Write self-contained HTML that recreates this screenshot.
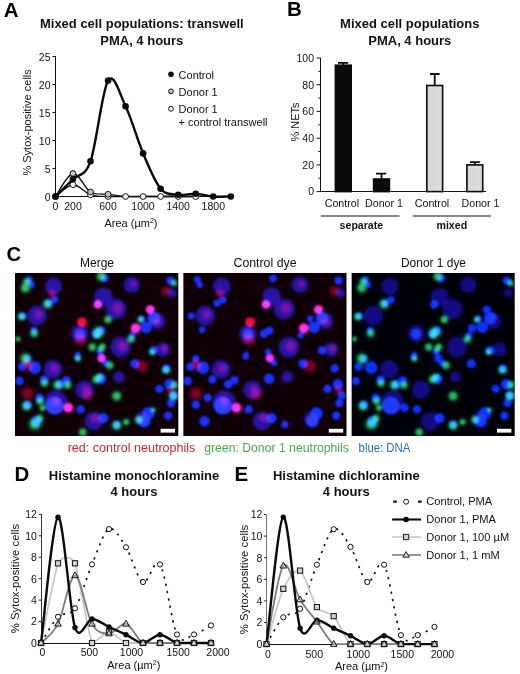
<!DOCTYPE html>
<html lang="en"><head><meta charset="utf-8"><title>Figure</title>
<style>html,body{margin:0;padding:0;background:#fff}body{width:520px;height:674px;overflow:hidden}svg{display:block}text{font-family:"Liberation Sans", Arial, Helvetica, sans-serif;fill:#111}.b{font-weight:700}.t{font-size:10.5px}.l{font-size:11px}.h{font-size:13px;font-weight:700}.p{font-size:20.5px;font-weight:700;fill:#000}.m{font-size:12.3px;fill:#111}</style></head><body>
<svg width="520" height="674" viewBox="0 0 520 674">
<defs><filter id="b1" x="-20%" y="-20%" width="140%" height="140%"><feGaussianBlur stdDeviation="1.1"/></filter><filter id="b2" x="-20%" y="-20%" width="140%" height="140%"><feGaussianBlur stdDeviation="1.7"/></filter>
<pattern id="st" width="2" height="2" patternUnits="userSpaceOnUse"><rect width="2" height="2" fill="#dcdcdc"/><rect width="1" height="1" fill="#cfcfcf"/></pattern></defs>
<rect width="520" height="674" fill="#fff"/>
<g id="panelA">
<text class="p" x="3.8" y="16.6">A</text>
<text class="h" x="141.8" y="27.9" text-anchor="middle">Mixed cell populations: transwell</text>
<text class="h" x="141.8" y="44.7" text-anchor="middle">PMA, 4 hours</text>
<path d="M55.5,56 V196.5 H231" fill="none" stroke="#111" stroke-width="1" shape-rendering="crispEdges"/>
<path d="M55.5,196.5 h-3" stroke="#111" stroke-width="1"/>
<text class="t" x="50.5" y="200.7" text-anchor="end">0</text>
<path d="M55.5,168.5 h-3" stroke="#111" stroke-width="1"/>
<text class="t" x="50.5" y="172.7" text-anchor="end">5</text>
<path d="M55.5,140.5 h-3" stroke="#111" stroke-width="1"/>
<text class="t" x="50.5" y="144.7" text-anchor="end">10</text>
<path d="M55.5,112.5 h-3" stroke="#111" stroke-width="1"/>
<text class="t" x="50.5" y="116.7" text-anchor="end">15</text>
<path d="M55.5,84.5 h-3" stroke="#111" stroke-width="1"/>
<text class="t" x="50.5" y="88.7" text-anchor="end">20</text>
<path d="M55.5,56.5 h-3" stroke="#111" stroke-width="1"/>
<text class="t" x="50.5" y="60.7" text-anchor="end">25</text>
<text class="t" x="55.5" y="210" text-anchor="middle">0</text>
<text class="t" x="73.0" y="210" text-anchor="middle">200</text>
<text class="t" x="108.0" y="210" text-anchor="middle">600</text>
<text class="t" x="143.0" y="210" text-anchor="middle">1000</text>
<text class="t" x="178.2" y="210" text-anchor="middle">1400</text>
<text class="t" x="213.3" y="210" text-anchor="middle">1800</text>
<text class="l" x="131" y="226.6" text-anchor="middle">Area (µm<tspan font-size="7" dy="-3.5">2</tspan><tspan dy="3.5">)</tspan></text>
<text class="l" transform="translate(31.4,122.4) rotate(-90)" text-anchor="middle">% Sytox-positive cells</text>
<path d="M55.50,196.50 C58.42,194.54 67.18,185.02 73.03,184.74 C78.87,184.46 84.71,192.86 90.55,194.82 C96.39,196.78 102.23,196.22 108.07,196.50 C113.92,196.78 119.76,196.50 125.60,196.50 C131.44,196.50 137.28,196.50 143.12,196.50 C148.97,196.50 154.81,196.50 160.65,196.50 C166.49,196.50 172.33,196.50 178.17,196.50 C184.02,196.50 192.78,196.50 195.70,196.50" fill="none" stroke="#111" stroke-width="1.4"/>
<path d="M55.50,196.50 C58.42,192.67 67.18,174.29 73.03,173.54 C78.87,172.79 84.71,188.57 90.55,192.02 C96.39,195.47 102.23,193.51 108.07,194.26 C113.92,195.01 119.76,196.13 125.60,196.50 C131.44,196.87 137.28,196.50 143.12,196.50 C148.97,196.50 154.81,196.50 160.65,196.50 C166.49,196.50 172.33,196.50 178.17,196.50 C184.02,196.50 192.78,196.50 195.70,196.50" fill="none" stroke="#111" stroke-width="1.4"/>
<circle cx="55.5" cy="196.5" r="2.9" fill="#fff" stroke="#111" stroke-width="1"/>
<circle cx="73.0" cy="184.7" r="2.9" fill="#fff" stroke="#111" stroke-width="1"/>
<circle cx="90.5" cy="194.8" r="2.9" fill="#fff" stroke="#111" stroke-width="1"/>
<circle cx="108.1" cy="196.5" r="2.9" fill="#fff" stroke="#111" stroke-width="1"/>
<circle cx="125.6" cy="196.5" r="2.9" fill="#fff" stroke="#111" stroke-width="1"/>
<circle cx="143.1" cy="196.5" r="2.9" fill="#fff" stroke="#111" stroke-width="1"/>
<circle cx="160.6" cy="196.5" r="2.9" fill="#fff" stroke="#111" stroke-width="1"/>
<circle cx="178.2" cy="196.5" r="2.9" fill="#fff" stroke="#111" stroke-width="1"/>
<circle cx="195.7" cy="196.5" r="2.9" fill="#fff" stroke="#111" stroke-width="1"/>
<circle cx="55.5" cy="196.5" r="2.9" fill="#c4c4c4" stroke="#111" stroke-width="1"/>
<circle cx="73.0" cy="173.5" r="2.9" fill="#c4c4c4" stroke="#111" stroke-width="1"/>
<circle cx="90.5" cy="192.0" r="2.9" fill="#c4c4c4" stroke="#111" stroke-width="1"/>
<circle cx="108.1" cy="194.3" r="2.9" fill="#c4c4c4" stroke="#111" stroke-width="1"/>
<path d="M55.50,196.50 C58.42,193.61 67.18,185.02 73.03,179.14 C78.87,173.26 84.71,177.65 90.55,161.22 C96.39,144.79 102.23,89.73 108.07,80.58 C113.92,71.43 119.76,94.21 125.60,106.34 C131.44,118.47 137.28,139.66 143.12,153.38 C148.97,167.10 154.81,181.75 160.65,188.66 C166.49,195.57 172.33,193.98 178.17,194.82 C184.02,195.66 189.86,193.42 195.70,193.70 C201.54,193.98 207.38,196.03 213.22,196.50 C219.07,196.97 227.83,196.50 230.75,196.50" fill="none" stroke="#0a0a0a" stroke-width="2.4" stroke-linejoin="round"/>
<circle cx="55.5" cy="196.5" r="3.3" fill="#0a0a0a"/>
<circle cx="73.0" cy="179.1" r="3.3" fill="#0a0a0a"/>
<circle cx="90.5" cy="161.2" r="3.3" fill="#0a0a0a"/>
<circle cx="108.1" cy="80.6" r="3.3" fill="#0a0a0a"/>
<circle cx="125.6" cy="106.3" r="3.3" fill="#0a0a0a"/>
<circle cx="143.1" cy="153.4" r="3.3" fill="#0a0a0a"/>
<circle cx="160.6" cy="188.7" r="3.3" fill="#0a0a0a"/>
<circle cx="178.2" cy="194.8" r="3.3" fill="#0a0a0a"/>
<circle cx="195.7" cy="193.7" r="3.3" fill="#0a0a0a"/>
<circle cx="213.2" cy="196.5" r="3.3" fill="#0a0a0a"/>
<circle cx="230.8" cy="196.5" r="3.3" fill="#0a0a0a"/>
<circle cx="171" cy="74.3" r="2.8" fill="#0a0a0a"/><circle cx="171" cy="91.3" r="2.4" fill="#c4c4c4" stroke="#111" stroke-width="1"/><circle cx="171" cy="108.8" r="2.4" fill="#fff" stroke="#111" stroke-width="1"/>
<text class="l" x="178.6" y="78.7">Control</text><text class="l" x="178.6" y="95.8">Donor 1</text><text class="l" x="178.6" y="112.6">Donor 1</text><text class="l" x="178.6" y="125.8">+ control transwell</text>
</g>
<g id="panelB">
<text class="p" x="287" y="15.7">B</text>
<text class="h" x="409.8" y="28.1" text-anchor="middle">Mixed cell populations</text>
<text class="h" x="409.8" y="44.9" text-anchor="middle">PMA, 4 hours</text>
<path d="M320.8,58 V191.6 H485.6" fill="none" stroke="#111" stroke-width="1" shape-rendering="crispEdges"/>
<path d="M320.8,191.6 h-4.2" stroke="#111" stroke-width="1"/>
<text class="t" x="314" y="195.4" text-anchor="end">0</text>
<path d="M320.8,178.2 h-2.4" stroke="#111" stroke-width="1"/>
<path d="M320.8,164.9 h-4.2" stroke="#111" stroke-width="1"/>
<text class="t" x="314" y="168.7" text-anchor="end">20</text>
<path d="M320.8,151.5 h-2.4" stroke="#111" stroke-width="1"/>
<path d="M320.8,138.2 h-4.2" stroke="#111" stroke-width="1"/>
<text class="t" x="314" y="142.0" text-anchor="end">40</text>
<path d="M320.8,124.8 h-2.4" stroke="#111" stroke-width="1"/>
<path d="M320.8,111.4 h-4.2" stroke="#111" stroke-width="1"/>
<text class="t" x="314" y="115.2" text-anchor="end">60</text>
<path d="M320.8,98.1 h-2.4" stroke="#111" stroke-width="1"/>
<path d="M320.8,84.7 h-4.2" stroke="#111" stroke-width="1"/>
<text class="t" x="314" y="88.5" text-anchor="end">80</text>
<path d="M320.8,71.4 h-2.4" stroke="#111" stroke-width="1"/>
<path d="M320.8,58.0 h-4.2" stroke="#111" stroke-width="1"/>
<text class="t" x="314" y="61.8" text-anchor="end">100</text>
<text class="l" transform="translate(298.5,122) rotate(-90)" text-anchor="middle">% NETs</text>
<path d="M343.3,65.2 V62.8 M338.0,62.8 H348.2" stroke="#0a0a0a" stroke-width="1.8" fill="none"/>
<rect x="335.4" y="65.2" width="15.8" height="126.4" fill="#0a0a0a" stroke="#0a0a0a" stroke-width="1.6"/>
<path d="M381.5,179.0 V173.7 M376.0,173.7 H386.2" stroke="#0a0a0a" stroke-width="1.8" fill="none"/>
<rect x="373.6" y="179.0" width="15.8" height="12.6" fill="#0a0a0a" stroke="#0a0a0a" stroke-width="1.6"/>
<path d="M434.7,85.5 V74.0 M430.0,74.0 H439.6" stroke="#0a0a0a" stroke-width="1.8" fill="none"/>
<rect x="426.8" y="85.5" width="15.8" height="106.1" fill="url(#st)" stroke="#0a0a0a" stroke-width="1.6"/>
<path d="M474.8,164.9 V162.2 M470.0,162.2 H479.8" stroke="#0a0a0a" stroke-width="1.8" fill="none"/>
<rect x="466.9" y="164.9" width="15.8" height="26.7" fill="url(#st)" stroke="#0a0a0a" stroke-width="1.6"/>
<text x="341.9" y="206.8" text-anchor="middle" style="font-size:10.7px">Control</text>
<text x="384.0" y="206.8" text-anchor="middle" style="font-size:10.7px">Donor 1</text>
<text x="432.0" y="206.8" text-anchor="middle" style="font-size:10.7px">Control</text>
<text x="480.5" y="206.8" text-anchor="middle" style="font-size:10.7px">Donor 1</text>
<path d="M320.7,216 H399.6 M412.7,216 H491" stroke="#111" stroke-width="1"/>
<text class="b" x="361.4" y="229.1" text-anchor="middle" style="font-size:10.6px">separate</text>
<text class="b" x="451.8" y="229.1" text-anchor="middle" style="font-size:10.6px">mixed</text>
</g>
<g id="panelC">
<text class="p" x="6.6" y="260.7" style="font-size:20.2px">C</text>
<text class="m" x="97" y="267.2" text-anchor="middle" textLength="34" lengthAdjust="spacingAndGlyphs">Merge</text>
<text class="m" x="265" y="267.2" text-anchor="middle" textLength="63" lengthAdjust="spacingAndGlyphs">Control dye</text>
<text class="m" x="433.5" y="267.2" text-anchor="middle" textLength="65" lengthAdjust="spacingAndGlyphs">Donor 1 dye</text>
<svg x="15.00" y="273" width="163.3" height="163" viewBox="0 0 163.3 163" overflow="hidden">
<rect width="164" height="164" fill="#0f0007"/>
<g style="mix-blend-mode:screen" filter="url(#b2)" fill="#2018d0" fill-opacity=".78"><circle cx="38.6" cy="13.4" r="8.6"/><circle cx="22.0" cy="42.6" r="9.8"/><circle cx="64.7" cy="60.7" r="8.6"/><circle cx="116.7" cy="11.8" r="8.0"/><circle cx="88.3" cy="23.7" r="9.2"/><circle cx="101.0" cy="36.0" r="10.3"/><circle cx="105.7" cy="74.0" r="10.3"/><circle cx="148.0" cy="76.5" r="6.9"/><circle cx="37.9" cy="96.2" r="9.2"/><circle cx="78.9" cy="148.0" r="9.2"/><circle cx="69.4" cy="116.7" r="9.2"/><circle cx="127.8" cy="145.7" r="6.9"/><circle cx="41.0" cy="129.3" r="11.5"/><circle cx="104.0" cy="104.0" r="5.8"/><circle cx="142.0" cy="48.0" r="8.0"/><circle cx="157.0" cy="20.0" r="4.6"/></g>
<g style="mix-blend-mode:screen" filter="url(#b2)" fill="#c00030" fill-opacity=".6"><circle cx="37.0" cy="20.5" r="4.2"/><circle cx="65.5" cy="66.2" r="6.0"/><circle cx="12.6" cy="120.6" r="6.0"/><circle cx="72.6" cy="121.4" r="5.4"/><circle cx="126.5" cy="93.0" r="6.0"/><circle cx="155.3" cy="116.7" r="3.6"/><circle cx="151.0" cy="18.0" r="4.8"/><circle cx="14.0" cy="93.0" r="4.2"/><circle cx="12.0" cy="90.0" r="3.6"/></g>
<g style="mix-blend-mode:screen" filter="url(#b2)" fill="#c00034" fill-opacity=".5"><circle cx="107.2" cy="73.0" r="5.2"/><circle cx="23.5" cy="41.6" r="4.5"/><circle cx="102.5" cy="35.0" r="5.2"/><circle cx="40.9" cy="128.0" r="4.5"/><circle cx="39.4" cy="95.2" r="4.5"/><circle cx="80.4" cy="145.0" r="4.5"/><circle cx="149.5" cy="75.5" r="3.8"/><circle cx="142.5" cy="49.0" r="3.8"/><circle cx="118.2" cy="10.8" r="3.0"/><circle cx="70.9" cy="115.7" r="3.8"/></g>
<g style="mix-blend-mode:screen" filter="url(#b1)" fill="#1030ff"><circle cx="14.2" cy="6.6" r="3.4"/><circle cx="16.6" cy="11.8" r="3.2"/><circle cx="39.7" cy="26.8" r="3.7"/><circle cx="33.9" cy="30.3" r="3.7"/><circle cx="7.9" cy="42.9" r="3.5"/><circle cx="18.9" cy="56.8" r="3.2"/><circle cx="80.8" cy="60.7" r="4.2"/><circle cx="63.0" cy="81.0" r="2.6"/><circle cx="89.9" cy="5.5" r="3.7"/><circle cx="155.3" cy="7.6" r="4.2"/><circle cx="127.0" cy="45.7" r="3.2"/><circle cx="130.9" cy="54.4" r="5.8"/><circle cx="138.8" cy="45.0" r="6.3"/><circle cx="86.0" cy="57.6" r="4.2"/><circle cx="117.5" cy="62.3" r="3.2"/><circle cx="138.8" cy="77.3" r="4.2"/><circle cx="85.0" cy="79.0" r="3.2"/><circle cx="120.6" cy="55.2" r="4.2"/><circle cx="135.3" cy="36.6" r="4.2"/><circle cx="82.8" cy="31.5" r="4.2"/><circle cx="12.6" cy="86.0" r="3.7"/><circle cx="7.1" cy="93.8" r="4.2"/><circle cx="19.7" cy="94.6" r="6.3"/><circle cx="4.4" cy="108.0" r="4.2"/><circle cx="29.2" cy="106.4" r="4.2"/><circle cx="45.0" cy="111.2" r="4.2"/><circle cx="51.3" cy="107.2" r="4.2"/><circle cx="62.3" cy="83.6" r="3.2"/><circle cx="24.4" cy="124.6" r="4.2"/><circle cx="12.6" cy="131.7" r="4.2"/><circle cx="39.4" cy="132.5" r="8.9"/><circle cx="65.5" cy="136.4" r="4.2"/><circle cx="21.3" cy="148.2" r="5.2"/><circle cx="53.3" cy="134.8" r="4.2"/><circle cx="90.7" cy="89.9" r="3.2"/><circle cx="119.9" cy="90.7" r="4.7"/><circle cx="151.4" cy="95.4" r="4.2"/><circle cx="86.0" cy="105.7" r="5.2"/><circle cx="154.6" cy="111.2" r="5.2"/><circle cx="144.3" cy="115.9" r="4.2"/><circle cx="158.5" cy="122.2" r="4.2"/><circle cx="156.1" cy="130.1" r="4.2"/><circle cx="153.0" cy="142.7" r="4.2"/><circle cx="133.3" cy="140.4" r="6.3"/><circle cx="129.3" cy="148.2" r="6.3"/><circle cx="88.3" cy="145.1" r="5.2"/><circle cx="101.7" cy="151.4" r="3.7"/><circle cx="86.7" cy="85.2" r="4.2"/><circle cx="64.7" cy="60.7" r="5.2"/></g>
<g style="mix-blend-mode:screen" filter="url(#b1)" fill="#f0083a"><circle cx="82.8" cy="31.5" r="4.4"/><circle cx="67.0" cy="49.2" r="5.0"/><circle cx="135.3" cy="36.6" r="4.7"/><circle cx="120.6" cy="55.2" r="5.2"/><circle cx="86.7" cy="85.2" r="4.2"/><circle cx="53.3" cy="134.8" r="5.2"/></g>
<g style="mix-blend-mode:screen" filter="url(#b2)" fill="#18a048" fill-opacity=".4"><circle cx="10.3" cy="15.0" r="6.0"/><circle cx="12.0" cy="9.0" r="5.1"/><circle cx="32.5" cy="31.0" r="6.0"/><circle cx="6.5" cy="43.5" r="5.1"/><circle cx="19.2" cy="60.3" r="5.1"/><circle cx="77.3" cy="74.1" r="5.1"/><circle cx="82.0" cy="62.0" r="5.1"/><circle cx="86.5" cy="3.5" r="6.0"/><circle cx="159.0" cy="10.0" r="4.2"/><circle cx="93.0" cy="46.5" r="5.1"/><circle cx="125.5" cy="46.5" r="4.2"/><circle cx="83.5" cy="59.0" r="6.8"/><circle cx="116.0" cy="66.0" r="5.1"/><circle cx="87.5" cy="73.5" r="4.2"/><circle cx="85.8" cy="75.7" r="4.2"/><circle cx="137.2" cy="78.9" r="4.2"/><circle cx="10.5" cy="85.5" r="6.8"/><circle cx="29.5" cy="110.0" r="5.1"/><circle cx="43.0" cy="112.0" r="6.0"/><circle cx="52.5" cy="112.0" r="5.1"/><circle cx="63.0" cy="85.5" r="4.2"/><circle cx="81.2" cy="106.4" r="5.1"/><circle cx="25.0" cy="128.0" r="5.1"/><circle cx="11.5" cy="133.0" r="6.0"/><circle cx="27.6" cy="134.8" r="4.2"/><circle cx="20.0" cy="151.0" r="7.6"/><circle cx="24.5" cy="145.5" r="5.1"/><circle cx="67.8" cy="159.3" r="5.1"/><circle cx="94.6" cy="92.3" r="5.1"/><circle cx="151.0" cy="97.0" r="5.1"/><circle cx="84.5" cy="104.5" r="5.1"/><circle cx="159.3" cy="112.0" r="5.1"/><circle cx="158.5" cy="123.0" r="6.0"/><circle cx="101.7" cy="123.0" r="6.0"/><circle cx="123.8" cy="146.7" r="5.1"/><circle cx="101.7" cy="152.5" r="6.0"/><circle cx="111.2" cy="149.0" r="4.2"/><circle cx="138.0" cy="137.0" r="3.4"/><circle cx="3.0" cy="66.0" r="3.4"/></g>
<g style="mix-blend-mode:screen" filter="url(#b1)" fill="#20be58" fill-opacity=".85"><circle cx="10.3" cy="15.0" r="3.7"/><circle cx="12.0" cy="9.0" r="3.2"/><circle cx="32.5" cy="31.0" r="3.7"/><circle cx="6.5" cy="43.5" r="3.2"/><circle cx="19.2" cy="60.3" r="3.2"/><circle cx="77.3" cy="74.1" r="3.2"/><circle cx="82.0" cy="62.0" r="3.2"/><circle cx="86.5" cy="3.5" r="3.7"/><circle cx="159.0" cy="10.0" r="2.6"/><circle cx="93.0" cy="46.5" r="3.2"/><circle cx="125.5" cy="46.5" r="2.6"/><circle cx="83.5" cy="59.0" r="4.2"/><circle cx="116.0" cy="66.0" r="3.2"/><circle cx="87.5" cy="73.5" r="2.6"/><circle cx="85.8" cy="75.7" r="2.6"/><circle cx="137.2" cy="78.9" r="2.6"/><circle cx="10.5" cy="85.5" r="4.2"/><circle cx="29.5" cy="110.0" r="3.2"/><circle cx="43.0" cy="112.0" r="3.7"/><circle cx="52.5" cy="112.0" r="3.2"/><circle cx="63.0" cy="85.5" r="2.6"/><circle cx="81.2" cy="106.4" r="3.2"/><circle cx="25.0" cy="128.0" r="3.2"/><circle cx="11.5" cy="133.0" r="3.7"/><circle cx="27.6" cy="134.8" r="2.6"/><circle cx="20.0" cy="151.0" r="4.7"/><circle cx="24.5" cy="145.5" r="3.2"/><circle cx="67.8" cy="159.3" r="3.2"/><circle cx="94.6" cy="92.3" r="3.2"/><circle cx="151.0" cy="97.0" r="3.2"/><circle cx="84.5" cy="104.5" r="3.2"/><circle cx="159.3" cy="112.0" r="3.2"/><circle cx="158.5" cy="123.0" r="3.7"/><circle cx="101.7" cy="123.0" r="3.7"/><circle cx="123.8" cy="146.7" r="3.2"/><circle cx="101.7" cy="152.5" r="3.7"/><circle cx="111.2" cy="149.0" r="2.6"/><circle cx="138.0" cy="137.0" r="2.1"/><circle cx="3.0" cy="66.0" r="2.1"/></g>
<rect x="145.6" y="155.8" width="14.4" height="3.8" fill="#fff"/>
</svg>
<svg x="183.20" y="273" width="163.3" height="163" viewBox="0 0 163.3 163" overflow="hidden">
<rect width="164" height="164" fill="#0f0007"/>
<g style="mix-blend-mode:screen" filter="url(#b2)" fill="#2018d0" fill-opacity=".78"><circle cx="38.6" cy="13.4" r="8.6"/><circle cx="22.0" cy="42.6" r="9.8"/><circle cx="64.7" cy="60.7" r="8.6"/><circle cx="116.7" cy="11.8" r="8.0"/><circle cx="88.3" cy="23.7" r="9.2"/><circle cx="101.0" cy="36.0" r="10.3"/><circle cx="105.7" cy="74.0" r="10.3"/><circle cx="148.0" cy="76.5" r="6.9"/><circle cx="37.9" cy="96.2" r="9.2"/><circle cx="78.9" cy="148.0" r="9.2"/><circle cx="69.4" cy="116.7" r="9.2"/><circle cx="127.8" cy="145.7" r="6.9"/><circle cx="41.0" cy="129.3" r="11.5"/><circle cx="104.0" cy="104.0" r="5.8"/><circle cx="142.0" cy="48.0" r="8.0"/><circle cx="157.0" cy="20.0" r="4.6"/></g>
<g style="mix-blend-mode:screen" filter="url(#b2)" fill="#c00030" fill-opacity=".6"><circle cx="37.0" cy="20.5" r="4.2"/><circle cx="65.5" cy="66.2" r="6.0"/><circle cx="12.6" cy="120.6" r="6.0"/><circle cx="72.6" cy="121.4" r="5.4"/><circle cx="126.5" cy="93.0" r="6.0"/><circle cx="155.3" cy="116.7" r="3.6"/><circle cx="151.0" cy="18.0" r="4.8"/><circle cx="14.0" cy="93.0" r="4.2"/><circle cx="12.0" cy="90.0" r="3.6"/></g>
<g style="mix-blend-mode:screen" filter="url(#b2)" fill="#c00034" fill-opacity=".5"><circle cx="107.2" cy="73.0" r="5.2"/><circle cx="23.5" cy="41.6" r="4.5"/><circle cx="102.5" cy="35.0" r="5.2"/><circle cx="40.9" cy="128.0" r="4.5"/><circle cx="39.4" cy="95.2" r="4.5"/><circle cx="80.4" cy="145.0" r="4.5"/><circle cx="149.5" cy="75.5" r="3.8"/><circle cx="142.5" cy="49.0" r="3.8"/><circle cx="118.2" cy="10.8" r="3.0"/><circle cx="70.9" cy="115.7" r="3.8"/></g>
<g style="mix-blend-mode:screen" filter="url(#b1)" fill="#1030ff"><circle cx="14.2" cy="6.6" r="3.4"/><circle cx="16.6" cy="11.8" r="3.2"/><circle cx="39.7" cy="26.8" r="3.7"/><circle cx="33.9" cy="30.3" r="3.7"/><circle cx="7.9" cy="42.9" r="3.5"/><circle cx="18.9" cy="56.8" r="3.2"/><circle cx="80.8" cy="60.7" r="4.2"/><circle cx="63.0" cy="81.0" r="2.6"/><circle cx="89.9" cy="5.5" r="3.7"/><circle cx="155.3" cy="7.6" r="4.2"/><circle cx="127.0" cy="45.7" r="3.2"/><circle cx="130.9" cy="54.4" r="5.8"/><circle cx="138.8" cy="45.0" r="6.3"/><circle cx="86.0" cy="57.6" r="4.2"/><circle cx="117.5" cy="62.3" r="3.2"/><circle cx="138.8" cy="77.3" r="4.2"/><circle cx="85.0" cy="79.0" r="3.2"/><circle cx="120.6" cy="55.2" r="4.2"/><circle cx="135.3" cy="36.6" r="4.2"/><circle cx="82.8" cy="31.5" r="4.2"/><circle cx="12.6" cy="86.0" r="3.7"/><circle cx="7.1" cy="93.8" r="4.2"/><circle cx="19.7" cy="94.6" r="6.3"/><circle cx="4.4" cy="108.0" r="4.2"/><circle cx="29.2" cy="106.4" r="4.2"/><circle cx="45.0" cy="111.2" r="4.2"/><circle cx="51.3" cy="107.2" r="4.2"/><circle cx="62.3" cy="83.6" r="3.2"/><circle cx="24.4" cy="124.6" r="4.2"/><circle cx="12.6" cy="131.7" r="4.2"/><circle cx="39.4" cy="132.5" r="8.9"/><circle cx="65.5" cy="136.4" r="4.2"/><circle cx="21.3" cy="148.2" r="5.2"/><circle cx="53.3" cy="134.8" r="4.2"/><circle cx="90.7" cy="89.9" r="3.2"/><circle cx="119.9" cy="90.7" r="4.7"/><circle cx="151.4" cy="95.4" r="4.2"/><circle cx="86.0" cy="105.7" r="5.2"/><circle cx="154.6" cy="111.2" r="5.2"/><circle cx="144.3" cy="115.9" r="4.2"/><circle cx="158.5" cy="122.2" r="4.2"/><circle cx="156.1" cy="130.1" r="4.2"/><circle cx="153.0" cy="142.7" r="4.2"/><circle cx="133.3" cy="140.4" r="6.3"/><circle cx="129.3" cy="148.2" r="6.3"/><circle cx="88.3" cy="145.1" r="5.2"/><circle cx="101.7" cy="151.4" r="3.7"/><circle cx="86.7" cy="85.2" r="4.2"/><circle cx="64.7" cy="60.7" r="5.2"/></g>
<g style="mix-blend-mode:screen" filter="url(#b1)" fill="#f0083a"><circle cx="82.8" cy="31.5" r="4.4"/><circle cx="67.0" cy="49.2" r="5.0"/><circle cx="135.3" cy="36.6" r="4.7"/><circle cx="120.6" cy="55.2" r="5.2"/><circle cx="86.7" cy="85.2" r="4.2"/><circle cx="53.3" cy="134.8" r="5.2"/></g>
<rect x="145.6" y="155.8" width="14.4" height="3.8" fill="#fff"/>
</svg>
<svg x="351.40" y="273" width="163.3" height="163" viewBox="0 0 163.3 163" overflow="hidden">
<rect width="164" height="164" fill="#000008"/>
<g style="mix-blend-mode:screen" filter="url(#b2)" fill="#2018d0" fill-opacity=".6"><circle cx="38.6" cy="13.4" r="8.6"/><circle cx="22.0" cy="42.6" r="9.8"/><circle cx="64.7" cy="60.7" r="8.6"/><circle cx="116.7" cy="11.8" r="8.0"/><circle cx="88.3" cy="23.7" r="9.2"/><circle cx="101.0" cy="36.0" r="10.3"/><circle cx="105.7" cy="74.0" r="10.3"/><circle cx="148.0" cy="76.5" r="6.9"/><circle cx="37.9" cy="96.2" r="9.2"/><circle cx="78.9" cy="148.0" r="9.2"/><circle cx="69.4" cy="116.7" r="9.2"/><circle cx="127.8" cy="145.7" r="6.9"/><circle cx="41.0" cy="129.3" r="11.5"/><circle cx="104.0" cy="104.0" r="5.8"/><circle cx="142.0" cy="48.0" r="8.0"/><circle cx="157.0" cy="20.0" r="4.6"/></g>
<g style="mix-blend-mode:screen" filter="url(#b1)" fill="#1030ff"><circle cx="14.2" cy="6.6" r="3.4"/><circle cx="16.6" cy="11.8" r="3.2"/><circle cx="39.7" cy="26.8" r="3.7"/><circle cx="33.9" cy="30.3" r="3.7"/><circle cx="7.9" cy="42.9" r="3.5"/><circle cx="18.9" cy="56.8" r="3.2"/><circle cx="80.8" cy="60.7" r="4.2"/><circle cx="63.0" cy="81.0" r="2.6"/><circle cx="89.9" cy="5.5" r="3.7"/><circle cx="155.3" cy="7.6" r="4.2"/><circle cx="127.0" cy="45.7" r="3.2"/><circle cx="130.9" cy="54.4" r="5.8"/><circle cx="138.8" cy="45.0" r="6.3"/><circle cx="86.0" cy="57.6" r="4.2"/><circle cx="117.5" cy="62.3" r="3.2"/><circle cx="138.8" cy="77.3" r="4.2"/><circle cx="85.0" cy="79.0" r="3.2"/><circle cx="120.6" cy="55.2" r="4.2"/><circle cx="135.3" cy="36.6" r="4.2"/><circle cx="82.8" cy="31.5" r="4.2"/><circle cx="12.6" cy="86.0" r="3.7"/><circle cx="7.1" cy="93.8" r="4.2"/><circle cx="19.7" cy="94.6" r="6.3"/><circle cx="4.4" cy="108.0" r="4.2"/><circle cx="29.2" cy="106.4" r="4.2"/><circle cx="45.0" cy="111.2" r="4.2"/><circle cx="51.3" cy="107.2" r="4.2"/><circle cx="62.3" cy="83.6" r="3.2"/><circle cx="24.4" cy="124.6" r="4.2"/><circle cx="12.6" cy="131.7" r="4.2"/><circle cx="39.4" cy="132.5" r="8.9"/><circle cx="65.5" cy="136.4" r="4.2"/><circle cx="21.3" cy="148.2" r="5.2"/><circle cx="53.3" cy="134.8" r="4.2"/><circle cx="90.7" cy="89.9" r="3.2"/><circle cx="119.9" cy="90.7" r="4.7"/><circle cx="151.4" cy="95.4" r="4.2"/><circle cx="86.0" cy="105.7" r="5.2"/><circle cx="154.6" cy="111.2" r="5.2"/><circle cx="144.3" cy="115.9" r="4.2"/><circle cx="158.5" cy="122.2" r="4.2"/><circle cx="156.1" cy="130.1" r="4.2"/><circle cx="153.0" cy="142.7" r="4.2"/><circle cx="133.3" cy="140.4" r="6.3"/><circle cx="129.3" cy="148.2" r="6.3"/><circle cx="88.3" cy="145.1" r="5.2"/><circle cx="101.7" cy="151.4" r="3.7"/><circle cx="86.7" cy="85.2" r="4.2"/><circle cx="64.7" cy="60.7" r="5.2"/></g>
<g style="mix-blend-mode:screen" filter="url(#b2)" fill="#18a048" fill-opacity=".4"><circle cx="10.3" cy="15.0" r="6.0"/><circle cx="12.0" cy="9.0" r="5.1"/><circle cx="32.5" cy="31.0" r="6.0"/><circle cx="6.5" cy="43.5" r="5.1"/><circle cx="19.2" cy="60.3" r="5.1"/><circle cx="77.3" cy="74.1" r="5.1"/><circle cx="82.0" cy="62.0" r="5.1"/><circle cx="86.5" cy="3.5" r="6.0"/><circle cx="159.0" cy="10.0" r="4.2"/><circle cx="93.0" cy="46.5" r="5.1"/><circle cx="125.5" cy="46.5" r="4.2"/><circle cx="83.5" cy="59.0" r="6.8"/><circle cx="116.0" cy="66.0" r="5.1"/><circle cx="87.5" cy="73.5" r="4.2"/><circle cx="85.8" cy="75.7" r="4.2"/><circle cx="137.2" cy="78.9" r="4.2"/><circle cx="10.5" cy="85.5" r="6.8"/><circle cx="29.5" cy="110.0" r="5.1"/><circle cx="43.0" cy="112.0" r="6.0"/><circle cx="52.5" cy="112.0" r="5.1"/><circle cx="63.0" cy="85.5" r="4.2"/><circle cx="81.2" cy="106.4" r="5.1"/><circle cx="25.0" cy="128.0" r="5.1"/><circle cx="11.5" cy="133.0" r="6.0"/><circle cx="27.6" cy="134.8" r="4.2"/><circle cx="20.0" cy="151.0" r="7.6"/><circle cx="24.5" cy="145.5" r="5.1"/><circle cx="67.8" cy="159.3" r="5.1"/><circle cx="94.6" cy="92.3" r="5.1"/><circle cx="151.0" cy="97.0" r="5.1"/><circle cx="84.5" cy="104.5" r="5.1"/><circle cx="159.3" cy="112.0" r="5.1"/><circle cx="158.5" cy="123.0" r="6.0"/><circle cx="101.7" cy="123.0" r="6.0"/><circle cx="123.8" cy="146.7" r="5.1"/><circle cx="101.7" cy="152.5" r="6.0"/><circle cx="111.2" cy="149.0" r="4.2"/><circle cx="138.0" cy="137.0" r="3.4"/><circle cx="3.0" cy="66.0" r="3.4"/></g>
<g style="mix-blend-mode:screen" filter="url(#b1)" fill="#20be58" fill-opacity=".85"><circle cx="10.3" cy="15.0" r="3.7"/><circle cx="12.0" cy="9.0" r="3.2"/><circle cx="32.5" cy="31.0" r="3.7"/><circle cx="6.5" cy="43.5" r="3.2"/><circle cx="19.2" cy="60.3" r="3.2"/><circle cx="77.3" cy="74.1" r="3.2"/><circle cx="82.0" cy="62.0" r="3.2"/><circle cx="86.5" cy="3.5" r="3.7"/><circle cx="159.0" cy="10.0" r="2.6"/><circle cx="93.0" cy="46.5" r="3.2"/><circle cx="125.5" cy="46.5" r="2.6"/><circle cx="83.5" cy="59.0" r="4.2"/><circle cx="116.0" cy="66.0" r="3.2"/><circle cx="87.5" cy="73.5" r="2.6"/><circle cx="85.8" cy="75.7" r="2.6"/><circle cx="137.2" cy="78.9" r="2.6"/><circle cx="10.5" cy="85.5" r="4.2"/><circle cx="29.5" cy="110.0" r="3.2"/><circle cx="43.0" cy="112.0" r="3.7"/><circle cx="52.5" cy="112.0" r="3.2"/><circle cx="63.0" cy="85.5" r="2.6"/><circle cx="81.2" cy="106.4" r="3.2"/><circle cx="25.0" cy="128.0" r="3.2"/><circle cx="11.5" cy="133.0" r="3.7"/><circle cx="27.6" cy="134.8" r="2.6"/><circle cx="20.0" cy="151.0" r="4.7"/><circle cx="24.5" cy="145.5" r="3.2"/><circle cx="67.8" cy="159.3" r="3.2"/><circle cx="94.6" cy="92.3" r="3.2"/><circle cx="151.0" cy="97.0" r="3.2"/><circle cx="84.5" cy="104.5" r="3.2"/><circle cx="159.3" cy="112.0" r="3.2"/><circle cx="158.5" cy="123.0" r="3.7"/><circle cx="101.7" cy="123.0" r="3.7"/><circle cx="123.8" cy="146.7" r="3.2"/><circle cx="101.7" cy="152.5" r="3.7"/><circle cx="111.2" cy="149.0" r="2.6"/><circle cx="138.0" cy="137.0" r="2.1"/><circle cx="3.0" cy="66.0" r="2.1"/></g>
<rect x="145.6" y="155.8" width="14.4" height="3.8" fill="#fff"/>
</svg>
<text x="67.7" y="452.3" textLength="127.7" lengthAdjust="spacingAndGlyphs" style="font-size:12.3px;fill:#d8232f">red: control neutrophils</text>
<text x="204.2" y="452.3" textLength="144.7" lengthAdjust="spacingAndGlyphs" style="font-size:12.3px;fill:#3fae49">green: Donor 1 neutrophils</text>
<text x="358.6" y="452.3" textLength="51.6" lengthAdjust="spacingAndGlyphs" style="font-size:12.3px;fill:#2b6cb0">blue: DNA</text>
</g>
<g id="panelD">
<text class="p" x="14.5" y="481">D</text>
<text class="h" x="134.0" y="480" text-anchor="middle">Histamine monochloramine</text>
<text class="h" x="134.0" y="495.5" text-anchor="middle">4 hours</text>
<path d="M41.0,514.4 V643.0" fill="none" stroke="#333" stroke-width="1" shape-rendering="crispEdges"/>
<path d="M40.5,643.0 H211.0" fill="none" stroke="#111" stroke-width="1" shape-rendering="crispEdges"/>
<path d="M41.0,643.0 h-2.4" stroke="#222" stroke-width="1"/>
<text class="t" x="36.9" y="646.8" text-anchor="end">0</text>
<path d="M41.0,621.6 h-2.4" stroke="#222" stroke-width="1"/>
<text class="t" x="36.9" y="625.4" text-anchor="end">2</text>
<path d="M41.0,600.1 h-2.4" stroke="#222" stroke-width="1"/>
<text class="t" x="36.9" y="603.9" text-anchor="end">4</text>
<path d="M41.0,578.7 h-2.4" stroke="#222" stroke-width="1"/>
<text class="t" x="36.9" y="582.5" text-anchor="end">6</text>
<path d="M41.0,557.2 h-2.4" stroke="#222" stroke-width="1"/>
<text class="t" x="36.9" y="561.0" text-anchor="end">8</text>
<path d="M41.0,535.8 h-2.4" stroke="#222" stroke-width="1"/>
<text class="t" x="36.9" y="539.6" text-anchor="end">10</text>
<path d="M41.0,514.4 h-2.4" stroke="#222" stroke-width="1"/>
<text class="t" x="36.9" y="518.2" text-anchor="end">12</text>
<text class="t" x="42.5" y="656.3" text-anchor="middle">0</text>
<text class="t" x="89.4" y="656.3" text-anchor="middle">500</text>
<text class="t" x="131.5" y="656.3" text-anchor="middle">1000</text>
<text class="t" x="178.2" y="656.3" text-anchor="middle">1500</text>
<text class="t" x="218.0" y="656.3" text-anchor="middle">2000</text>
<text class="l" x="133.8" y="668.6" text-anchor="middle">Area (µm<tspan font-size="7" dy="-3.5">2</tspan><tspan dy="3.5">)</tspan></text>
<text transform="translate(19.3,578.5) rotate(-90)" text-anchor="middle" style="font-size:11.3px">% Sytox-positive cells</text>
<path d="M41.00,643.00 C43.83,638.64 52.33,622.61 58.00,616.82 C63.67,611.03 69.33,617.00 75.00,608.26 C80.67,599.52 86.33,577.59 92.00,564.39 C97.67,551.19 103.33,531.93 109.00,529.08 C114.67,526.23 120.33,538.44 126.00,547.27 C131.67,556.10 137.33,579.19 143.00,582.04 C148.67,584.90 154.33,555.65 160.00,564.39 C165.67,573.13 171.33,622.79 177.00,634.48 C182.67,646.16 188.33,635.99 194.00,634.48 C199.67,632.96 208.17,626.90 211.00,625.38" fill="none" stroke="#111" stroke-width="1.7" stroke-dasharray="2.2 5.2"/>
<path d="M41.00,643.00 C42.53,635.83 54.94,570.49 58.00,563.32 C61.06,556.15 71.94,556.15 75.00,563.32 C78.06,570.49 88.94,636.84 92.00,643.00 C95.06,643.00 105.94,631.80 109.00,631.80 C112.06,631.80 122.94,641.99 126.00,643.00 C129.06,643.00 139.94,643.00 143.00,643.00 C146.06,643.00 156.94,643.00 160.00,643.00 C163.06,643.00 173.94,643.00 177.00,643.00 C180.06,643.00 190.94,643.00 194.00,643.00 C197.06,643.00 209.47,643.00 211.00,643.00" fill="none" stroke="#c8c8c8" stroke-width="1.8"/>
<path d="M41.00,643.00 C43.83,639.81 52.33,635.13 58.00,623.88 C63.67,612.63 69.33,575.52 75.00,575.52 C80.67,575.52 86.33,614.20 92.00,623.88 C97.67,633.57 103.33,633.62 109.00,633.62 C114.67,633.62 120.33,622.32 126.00,623.88 C131.67,625.45 137.33,639.81 143.00,643.00 C148.67,643.00 154.33,643.00 160.00,643.00 C165.67,643.00 171.33,643.00 177.00,643.00 C182.67,643.00 188.33,643.00 194.00,643.00 C199.67,643.00 208.17,643.00 211.00,643.00" fill="none" stroke="#7d7d7d" stroke-width="1.8"/>
<path d="M41.00,643.00 C43.61,623.73 52.79,519.68 58.00,517.31 C63.21,514.94 69.79,611.93 75.00,627.52 C80.21,643.00 86.79,619.04 92.00,618.96 C97.21,618.88 103.79,624.57 109.00,626.99 C114.21,629.40 120.79,632.23 126.00,634.69 C131.21,637.14 137.79,643.00 143.00,643.00 C148.21,643.00 154.79,634.69 160.00,634.69 C165.21,634.69 171.79,641.73 177.00,643.00 C182.21,643.00 188.79,643.00 194.00,643.00 C199.21,643.00 208.39,643.00 211.00,643.00" fill="none" stroke="#0a0a0a" stroke-width="2.4" stroke-linejoin="round"/>
<circle cx="58.0" cy="616.8" r="2.6" fill="#fff" stroke="#111" stroke-width="1"/>
<circle cx="75.0" cy="608.3" r="2.6" fill="#fff" stroke="#111" stroke-width="1"/>
<circle cx="92.0" cy="564.4" r="2.6" fill="#fff" stroke="#111" stroke-width="1"/>
<circle cx="109.0" cy="529.1" r="2.6" fill="#fff" stroke="#111" stroke-width="1"/>
<circle cx="126.0" cy="547.3" r="2.6" fill="#fff" stroke="#111" stroke-width="1"/>
<circle cx="143.0" cy="582.0" r="2.6" fill="#fff" stroke="#111" stroke-width="1"/>
<circle cx="160.0" cy="564.4" r="2.6" fill="#fff" stroke="#111" stroke-width="1"/>
<circle cx="177.0" cy="634.5" r="2.6" fill="#fff" stroke="#111" stroke-width="1"/>
<circle cx="194.0" cy="634.5" r="2.6" fill="#fff" stroke="#111" stroke-width="1"/>
<circle cx="211.0" cy="625.4" r="2.6" fill="#fff" stroke="#111" stroke-width="1"/>
<circle cx="58.0" cy="517.3" r="2.7" fill="#0a0a0a"/>
<circle cx="75.0" cy="627.5" r="2.7" fill="#0a0a0a"/>
<circle cx="92.0" cy="619.0" r="2.7" fill="#0a0a0a"/>
<circle cx="109.0" cy="627.0" r="2.7" fill="#0a0a0a"/>
<circle cx="126.0" cy="634.7" r="2.7" fill="#0a0a0a"/>
<circle cx="143.0" cy="643.0" r="2.7" fill="#0a0a0a"/>
<circle cx="160.0" cy="634.7" r="2.7" fill="#0a0a0a"/>
<circle cx="177.0" cy="643.0" r="2.7" fill="#0a0a0a"/>
<circle cx="194.0" cy="643.0" r="2.7" fill="#0a0a0a"/>
<circle cx="211.0" cy="643.0" r="2.7" fill="#0a0a0a"/>
<rect x="38.4" y="640.4" width="5.2" height="5.2" fill="#d2d2d2" stroke="#111" stroke-width="1"/>
<rect x="55.4" y="560.7" width="5.2" height="5.2" fill="#d2d2d2" stroke="#111" stroke-width="1"/>
<rect x="72.4" y="560.7" width="5.2" height="5.2" fill="#d2d2d2" stroke="#111" stroke-width="1"/>
<rect x="89.4" y="640.4" width="5.2" height="5.2" fill="#d2d2d2" stroke="#111" stroke-width="1"/>
<rect x="106.4" y="629.2" width="5.2" height="5.2" fill="#d2d2d2" stroke="#111" stroke-width="1"/>
<rect x="123.4" y="640.4" width="5.2" height="5.2" fill="#d2d2d2" stroke="#111" stroke-width="1"/>
<rect x="140.4" y="640.4" width="5.2" height="5.2" fill="#d2d2d2" stroke="#111" stroke-width="1"/>
<rect x="157.4" y="640.4" width="5.2" height="5.2" fill="#d2d2d2" stroke="#111" stroke-width="1"/>
<rect x="174.4" y="640.4" width="5.2" height="5.2" fill="#d2d2d2" stroke="#111" stroke-width="1"/>
<rect x="191.4" y="640.4" width="5.2" height="5.2" fill="#d2d2d2" stroke="#111" stroke-width="1"/>
<rect x="208.4" y="640.4" width="5.2" height="5.2" fill="#d2d2d2" stroke="#111" stroke-width="1"/>
<path d="M41.0,639.4 l3.3,5.8 h-6.6 z" fill="#d2d2d2" fill-opacity=".45" stroke="#111" stroke-width="1"/>
<path d="M58.0,620.3 l3.3,5.8 h-6.6 z" fill="#d2d2d2" fill-opacity=".45" stroke="#111" stroke-width="1"/>
<path d="M75.0,571.9 l3.3,5.8 h-6.6 z" fill="#d2d2d2" fill-opacity=".45" stroke="#111" stroke-width="1"/>
<path d="M92.0,620.3 l3.3,5.8 h-6.6 z" fill="#d2d2d2" fill-opacity=".45" stroke="#111" stroke-width="1"/>
<path d="M109.0,630.0 l3.3,5.8 h-6.6 z" fill="#d2d2d2" fill-opacity=".45" stroke="#111" stroke-width="1"/>
<path d="M126.0,620.3 l3.3,5.8 h-6.6 z" fill="#d2d2d2" fill-opacity=".45" stroke="#111" stroke-width="1"/>
<path d="M143.0,639.4 l3.3,5.8 h-6.6 z" fill="#d2d2d2" fill-opacity=".45" stroke="#111" stroke-width="1"/>
<path d="M160.0,639.4 l3.3,5.8 h-6.6 z" fill="#d2d2d2" fill-opacity=".45" stroke="#111" stroke-width="1"/>
<path d="M177.0,639.4 l3.3,5.8 h-6.6 z" fill="#d2d2d2" fill-opacity=".45" stroke="#111" stroke-width="1"/>
<path d="M194.0,639.4 l3.3,5.8 h-6.6 z" fill="#d2d2d2" fill-opacity=".45" stroke="#111" stroke-width="1"/>
<path d="M211.0,639.4 l3.3,5.8 h-6.6 z" fill="#d2d2d2" fill-opacity=".45" stroke="#111" stroke-width="1"/>
</g>
<g id="panelE">
<text class="p" x="234.5" y="481">E</text>
<text class="h" x="346.3" y="480" text-anchor="middle">Histamine dichloramine</text>
<text class="h" x="346.3" y="495.5" text-anchor="middle">4 hours</text>
<path d="M266.5,514.5 V644.1" fill="none" stroke="#777" stroke-width="1" shape-rendering="crispEdges"/>
<path d="M266.0,644.1 H434.5" fill="none" stroke="#111" stroke-width="1" shape-rendering="crispEdges"/>
<path d="M266.5,644.1 h-2.4" stroke="#222" stroke-width="1"/>
<text class="t" x="262.4" y="647.9" text-anchor="end">0</text>
<path d="M266.5,622.5 h-2.4" stroke="#222" stroke-width="1"/>
<text class="t" x="262.4" y="626.3" text-anchor="end">2</text>
<path d="M266.5,600.9 h-2.4" stroke="#222" stroke-width="1"/>
<text class="t" x="262.4" y="604.7" text-anchor="end">4</text>
<path d="M266.5,579.3 h-2.4" stroke="#222" stroke-width="1"/>
<text class="t" x="262.4" y="583.1" text-anchor="end">6</text>
<path d="M266.5,557.7 h-2.4" stroke="#222" stroke-width="1"/>
<text class="t" x="262.4" y="561.5" text-anchor="end">8</text>
<path d="M266.5,536.1 h-2.4" stroke="#222" stroke-width="1"/>
<text class="t" x="262.4" y="539.9" text-anchor="end">10</text>
<path d="M266.5,514.5 h-2.4" stroke="#222" stroke-width="1"/>
<text class="t" x="262.4" y="518.3" text-anchor="end">12</text>
<text class="t" x="268.0" y="658.0" text-anchor="middle">0</text>
<text class="t" x="314.3" y="658.0" text-anchor="middle">500</text>
<text class="t" x="358.3" y="658.0" text-anchor="middle">1000</text>
<text class="t" x="402.3" y="658.0" text-anchor="middle">1500</text>
<text class="t" x="442.4" y="658.0" text-anchor="middle">2000</text>
<text class="l" x="361.5" y="670.3" text-anchor="middle">Area (µm<tspan font-size="7" dy="-3.5">2</tspan><tspan dy="3.5">)</tspan></text>
<text transform="translate(247.6,579.5) rotate(-90)" text-anchor="middle" style="font-size:11.3px">% Sytox-positive cells</text>
<path d="M266.50,644.10 C269.30,639.63 277.70,623.15 283.30,617.27 C288.90,611.39 294.50,617.57 300.10,608.82 C305.70,600.06 311.30,578.00 316.90,564.73 C322.50,551.47 328.10,532.19 333.70,529.21 C339.30,526.23 344.90,538.07 350.50,546.87 C356.10,555.66 361.70,578.98 367.30,581.96 C372.90,584.94 378.50,555.87 384.10,564.73 C389.70,573.60 395.30,623.41 400.90,635.14 C406.50,646.87 412.10,636.51 417.70,635.14 C423.30,633.77 431.70,628.27 434.50,626.90" fill="none" stroke="#111" stroke-width="1.7" stroke-dasharray="2.2 5.2"/>
<path d="M266.50,644.10 C268.74,636.73 278.82,598.61 283.30,588.81 C287.78,579.01 295.62,568.18 300.10,570.62 C304.58,573.06 312.42,601.03 316.90,607.11 C321.38,613.18 329.22,611.27 333.70,616.20 C338.18,621.13 346.02,640.38 350.50,644.10 C354.98,644.10 362.82,644.10 367.30,644.10 C371.78,644.10 379.62,644.10 384.10,644.10 C388.58,644.10 396.42,644.10 400.90,644.10 C405.38,644.10 413.22,644.10 417.70,644.10 C422.18,644.10 432.26,644.10 434.50,644.10" fill="none" stroke="#c8c8c8" stroke-width="1.8"/>
<path d="M266.50,644.10 C269.30,631.05 277.70,573.22 283.30,565.80 C288.90,558.39 294.50,590.29 300.10,599.62 C305.70,608.94 311.30,614.35 316.90,621.77 C322.50,629.18 328.10,640.38 333.70,644.10 C339.30,644.10 344.90,644.10 350.50,644.10 C356.10,644.10 361.70,644.10 367.30,644.10 C372.90,644.10 378.50,644.10 384.10,644.10 C389.70,644.10 395.30,644.10 400.90,644.10 C406.50,644.10 412.10,644.10 417.70,644.10 C423.30,644.10 431.70,644.10 434.50,644.10" fill="none" stroke="#7d7d7d" stroke-width="1.8"/>
<path d="M266.50,644.10 C269.08,624.63 278.15,519.56 283.30,517.12 C288.45,514.68 294.95,612.39 300.10,628.19 C305.25,643.98 311.75,620.16 316.90,620.16 C322.05,620.16 328.55,625.79 333.70,628.19 C338.85,630.58 345.35,633.34 350.50,635.78 C355.65,638.22 362.15,644.10 367.30,644.10 C372.45,644.10 378.95,635.78 384.10,635.78 C389.25,635.78 395.75,642.82 400.90,644.10 C406.05,644.10 412.55,644.10 417.70,644.10 C422.85,644.10 431.92,644.10 434.50,644.10" fill="none" stroke="#0a0a0a" stroke-width="2.4" stroke-linejoin="round"/>
<circle cx="283.3" cy="617.3" r="2.6" fill="#fff" stroke="#111" stroke-width="1"/>
<circle cx="300.1" cy="608.8" r="2.6" fill="#fff" stroke="#111" stroke-width="1"/>
<circle cx="316.9" cy="564.7" r="2.6" fill="#fff" stroke="#111" stroke-width="1"/>
<circle cx="333.7" cy="529.2" r="2.6" fill="#fff" stroke="#111" stroke-width="1"/>
<circle cx="350.5" cy="546.9" r="2.6" fill="#fff" stroke="#111" stroke-width="1"/>
<circle cx="367.3" cy="582.0" r="2.6" fill="#fff" stroke="#111" stroke-width="1"/>
<circle cx="384.1" cy="564.7" r="2.6" fill="#fff" stroke="#111" stroke-width="1"/>
<circle cx="400.9" cy="635.1" r="2.6" fill="#fff" stroke="#111" stroke-width="1"/>
<circle cx="417.7" cy="635.1" r="2.6" fill="#fff" stroke="#111" stroke-width="1"/>
<circle cx="434.5" cy="626.9" r="2.6" fill="#fff" stroke="#111" stroke-width="1"/>
<circle cx="283.3" cy="517.1" r="2.7" fill="#0a0a0a"/>
<circle cx="300.1" cy="628.2" r="2.7" fill="#0a0a0a"/>
<circle cx="316.9" cy="620.2" r="2.7" fill="#0a0a0a"/>
<circle cx="333.7" cy="628.2" r="2.7" fill="#0a0a0a"/>
<circle cx="350.5" cy="635.8" r="2.7" fill="#0a0a0a"/>
<circle cx="367.3" cy="644.1" r="2.7" fill="#0a0a0a"/>
<circle cx="384.1" cy="635.8" r="2.7" fill="#0a0a0a"/>
<circle cx="400.9" cy="644.1" r="2.7" fill="#0a0a0a"/>
<circle cx="417.7" cy="644.1" r="2.7" fill="#0a0a0a"/>
<circle cx="434.5" cy="644.1" r="2.7" fill="#0a0a0a"/>
<rect x="263.9" y="641.5" width="5.2" height="5.2" fill="#d2d2d2" stroke="#111" stroke-width="1"/>
<rect x="280.7" y="586.2" width="5.2" height="5.2" fill="#d2d2d2" stroke="#111" stroke-width="1"/>
<rect x="297.5" y="568.0" width="5.2" height="5.2" fill="#d2d2d2" stroke="#111" stroke-width="1"/>
<rect x="314.3" y="604.5" width="5.2" height="5.2" fill="#d2d2d2" stroke="#111" stroke-width="1"/>
<rect x="331.1" y="613.6" width="5.2" height="5.2" fill="#d2d2d2" stroke="#111" stroke-width="1"/>
<rect x="347.9" y="641.5" width="5.2" height="5.2" fill="#d2d2d2" stroke="#111" stroke-width="1"/>
<rect x="364.7" y="641.5" width="5.2" height="5.2" fill="#d2d2d2" stroke="#111" stroke-width="1"/>
<rect x="381.5" y="641.5" width="5.2" height="5.2" fill="#d2d2d2" stroke="#111" stroke-width="1"/>
<rect x="398.3" y="641.5" width="5.2" height="5.2" fill="#d2d2d2" stroke="#111" stroke-width="1"/>
<rect x="415.1" y="641.5" width="5.2" height="5.2" fill="#d2d2d2" stroke="#111" stroke-width="1"/>
<rect x="431.9" y="641.5" width="5.2" height="5.2" fill="#d2d2d2" stroke="#111" stroke-width="1"/>
<path d="M266.5,640.5 l3.3,5.8 h-6.6 z" fill="#d2d2d2" fill-opacity=".45" stroke="#111" stroke-width="1"/>
<path d="M283.3,562.2 l3.3,5.8 h-6.6 z" fill="#d2d2d2" fill-opacity=".45" stroke="#111" stroke-width="1"/>
<path d="M300.1,596.0 l3.3,5.8 h-6.6 z" fill="#d2d2d2" fill-opacity=".45" stroke="#111" stroke-width="1"/>
<path d="M316.9,618.2 l3.3,5.8 h-6.6 z" fill="#d2d2d2" fill-opacity=".45" stroke="#111" stroke-width="1"/>
<path d="M333.7,640.5 l3.3,5.8 h-6.6 z" fill="#d2d2d2" fill-opacity=".45" stroke="#111" stroke-width="1"/>
<path d="M350.5,640.5 l3.3,5.8 h-6.6 z" fill="#d2d2d2" fill-opacity=".45" stroke="#111" stroke-width="1"/>
<path d="M367.3,640.5 l3.3,5.8 h-6.6 z" fill="#d2d2d2" fill-opacity=".45" stroke="#111" stroke-width="1"/>
<path d="M384.1,640.5 l3.3,5.8 h-6.6 z" fill="#d2d2d2" fill-opacity=".45" stroke="#111" stroke-width="1"/>
<path d="M400.9,640.5 l3.3,5.8 h-6.6 z" fill="#d2d2d2" fill-opacity=".45" stroke="#111" stroke-width="1"/>
<path d="M417.7,640.5 l3.3,5.8 h-6.6 z" fill="#d2d2d2" fill-opacity=".45" stroke="#111" stroke-width="1"/>
<path d="M434.5,640.5 l3.3,5.8 h-6.6 z" fill="#d2d2d2" fill-opacity=".45" stroke="#111" stroke-width="1"/>
</g>
<g id="legendE">
<path d="M393.2,501.7 h3.6 M418,501.7 h3.6" stroke="#111" stroke-width="2.2"/><circle cx="406.1" cy="501.7" r="2.5" fill="#fff" stroke="#111" stroke-width="1"/>
<path d="M392.1,519.5 H421" stroke="#0a0a0a" stroke-width="2.1"/><circle cx="406.1" cy="519.5" r="2.8" fill="#0a0a0a"/>
<path d="M392.1,537 H421" stroke="#c8c8c8" stroke-width="1.6"/><rect x="403.5" y="534.4" width="5.2" height="5.2" fill="#d2d2d2" stroke="#222" stroke-width="1"/>
<path d="M392.1,555 H421" stroke="#7d7d7d" stroke-width="1.6"/><path d="M406.1,551.6 l3.2,5.6 h-6.4 z" fill="#d2d2d2" stroke="#222" stroke-width="1"/>
<text x="426.3" style="font-size:11.1px" y="505.3">Control, PMA</text>
<text x="426.3" style="font-size:11.1px" y="523.1">Donor 1, PMA</text>
<text x="426.3" style="font-size:11.1px" y="540.7">Donor 1, 100 µM</text>
<text x="426.3" style="font-size:11.1px" y="558.6">Donor 1, 1 mM</text>
</g>
</svg></body></html>
